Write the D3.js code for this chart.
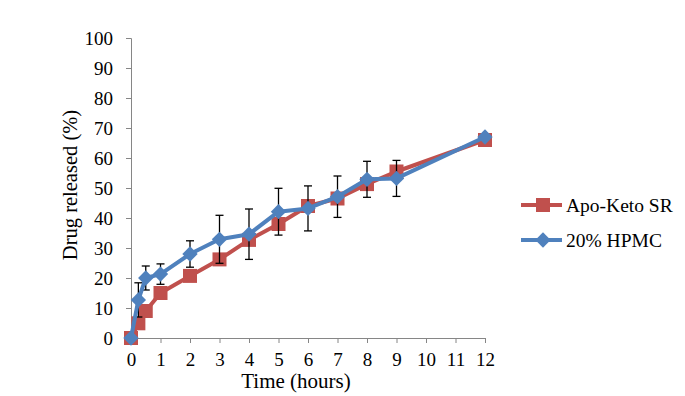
<!DOCTYPE html>
<html>
<head>
<meta charset="utf-8">
<script src="https://cdn.jsdelivr.net/npm/d3@7"></script>
<style>
  body { margin: 0; background: #fff; }
  text { font-family: "Liberation Serif", "Times New Roman", serif; }
</style>
</head>
<body>
<div class="canvas"></div>
<script>
// data
const times = [0, 0.25, 0.5, 1, 2, 3, 4, 5, 6, 7, 8, 9, 12]
const apoKeto = [0, 4.9, 9, 15, 20.7, 26.2, 32.7, 38, 44, 46.5, 51.3, 55.5, 66]
const hpmc = [0, 12.7, 20, 21.3, 28, 32.9, 34.6, 42.1, 43.2, 47.1, 52.9, 53.2, 67]
const hpmcErr = [0, 5.7, 4, 3.4, 4.4, 8, 8.4, 7.8, 7.5, 6.9, 6, 6, 0.5]
const xTicks = d3.range(0, 13)
const yTicks = d3.range(0, 101, 10)
const seriesNames = ['Apo-Keto SR', '20% HPMC']

const width = 685, height = 396
const font = '"Liberation Serif", "Times New Roman", serif'

const svg = d3.select('.canvas')
  .append('svg')
  .attr('width', width)
  .attr('height', height)

const x = d3.scaleLinear().domain([0, 12]).range([131, 485])
const y = d3.scaleLinear().domain([0, 100]).range([338, 38])

// axes
const axisColor = '#868686'
const yAxis = svg.append('g')
  .attr('transform', `translate(${x(0)},0)`)
  .call(d3.axisLeft(y).tickValues(yTicks).tickSize(5).tickPadding(13))
  .attr('font-family', font)
  .attr('font-size', 19)
yAxis.select('.domain').attr('stroke', axisColor)
yAxis.selectAll('line').attr('stroke', axisColor)
yAxis.selectAll('text').attr('fill', '#000')

const xAxis = svg.append('g')
  .attr('transform', `translate(0,${y(0)})`)
  .call(d3.axisBottom(x).tickValues(xTicks).tickSize(5).tickPadding(10))
  .attr('font-family', font)
  .attr('font-size', 19)
xAxis.select('.domain').attr('stroke', axisColor)
xAxis.selectAll('line').attr('stroke', axisColor)
xAxis.selectAll('text').attr('fill', '#000')

// axis titles
svg.append('text')
  .attr('transform', `translate(77,185) rotate(-90)`)
  .attr('text-anchor', 'middle')
  .attr('font-size', 20.5)
  .text('Drug released (%)')

svg.append('text')
  .attr('x', 296)
  .attr('y', 388)
  .attr('text-anchor', 'middle')
  .attr('font-size', 21)
  .text('Time (hours)')

const line = d3.line()
  .x((d, i) => x(times[i]))
  .y(d => y(d))

const red = '#C0504D', blue = '#4F81BD'

// red series
svg.append('path')
  .datum(apoKeto)
  .attr('d', line)
  .attr('fill', 'none')
  .attr('stroke', red)
  .attr('stroke-width', 4)
  .attr('stroke-linejoin', 'round')

svg.selectAll('.sq')
  .data(apoKeto)
  .enter()
  .append('rect')
  .attr('class', 'sq')
  .attr('x', (d, i) => x(times[i]) - 7)
  .attr('y', d => y(d) - 7)
  .attr('width', 14)
  .attr('height', 14)
  .attr('fill', red)

// error bars on the HPMC series
const eb = svg.append('g').attr('stroke', '#000').attr('stroke-width', 1.3)
hpmc.forEach((v, i) => {
  const cx = x(times[i])
  const lo = y(v - hpmcErr[i]), hi = y(v + hpmcErr[i])
  eb.append('line').attr('x1', cx).attr('x2', cx).attr('y1', lo).attr('y2', hi)
  eb.append('line').attr('x1', cx - 4).attr('x2', cx + 4).attr('y1', lo).attr('y2', lo)
  eb.append('line').attr('x1', cx - 4).attr('x2', cx + 4).attr('y1', hi).attr('y2', hi)
})

// blue series
svg.append('path')
  .datum(hpmc)
  .attr('d', line)
  .attr('fill', 'none')
  .attr('stroke', blue)
  .attr('stroke-width', 4)
  .attr('stroke-linejoin', 'round')

const diamond = d3.symbol().type(d3.symbolDiamond2).size(150)
svg.selectAll('.dm')
  .data(hpmc)
  .enter()
  .append('path')
  .attr('class', 'dm')
  .attr('d', diamond)
  .attr('transform', (d, i) => `translate(${x(times[i])},${y(d)})`)
  .attr('fill', blue)

// legend
const legend = svg.append('g')
seriesNames.forEach((name, i) => {
  const ly = 205 + i * 35
  const col = i === 0 ? red : blue
  legend.append('line')
    .attr('x1', 521).attr('x2', 562).attr('y1', ly).attr('y2', ly)
    .attr('stroke', col).attr('stroke-width', 4)
  if (i === 0) {
    legend.append('rect').attr('x', 536).attr('y', ly - 7)
      .attr('width', 14).attr('height', 14).attr('fill', col)
  } else {
    legend.append('path').attr('d', diamond)
      .attr('transform', `translate(543,${ly})`).attr('fill', col)
  }
  legend.append('text')
    .attr('x', 566).attr('y', ly + 6.5)
    .attr('font-size', 19.5)
    .text(name)
})
</script>
</body>
</html>
